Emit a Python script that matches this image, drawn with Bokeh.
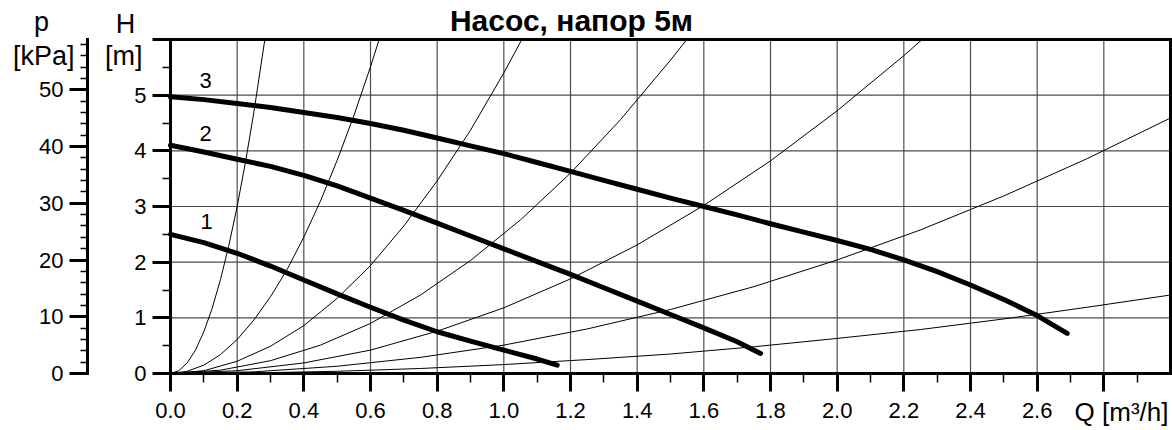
from bokeh.plotting import figure
from bokeh.models import Range1d, LinearAxis, FixedTicker, Label, NumeralTickFormatter
from bokeh.embed import file_html
from bokeh.resources import INLINE

FONT = "Liberation Sans"

# ---------------- data ----------------
TITLE = "Насос, напор 5м"

# pump curves (speed steps 1, 2, 3): flow Q [m3/h] vs head H [m]
q_pump1 = [0.0, 0.1, 0.2, 0.3, 0.4, 0.5, 0.6, 0.7, 0.8, 0.9, 1.0, 1.1, 1.16]
h_pump1 = [2.50, 2.35, 2.16, 1.93, 1.68, 1.43, 1.19, 0.96, 0.75, 0.58, 0.42, 0.26, 0.15]

q_pump2 = [0.0, 0.1, 0.2, 0.3, 0.4, 0.5, 0.6, 0.7, 0.8, 0.9, 1.0, 1.1, 1.2, 1.3, 1.4, 1.5, 1.6, 1.7, 1.77]
h_pump2 = [4.10, 3.98, 3.85, 3.72, 3.56, 3.37, 3.15, 2.93, 2.70, 2.47, 2.24, 2.01, 1.78, 1.54, 1.30, 1.06, 0.82, 0.57, 0.36]

q_pump3 = [0.0, 0.1, 0.2, 0.3, 0.4, 0.5, 0.6, 0.7, 0.8, 0.9, 1.0, 1.1, 1.2, 1.3, 1.4,
           1.5, 1.6, 1.7, 1.8, 1.9, 2.0, 2.1, 2.2, 2.3, 2.4, 2.5, 2.6, 2.69]
h_pump3 = [4.97, 4.92, 4.85, 4.78, 4.69, 4.60, 4.49, 4.37, 4.23, 4.09, 3.95, 3.79, 3.63, 3.47, 3.31,
           3.15, 3.00, 2.85, 2.69, 2.54, 2.39, 2.23, 2.04, 1.83, 1.59, 1.33, 1.04, 0.72]

# system (pipe network) characteristic curves, thin lines
q_sys1 = [0.0, 0.025, 0.05, 0.075, 0.1, 0.125, 0.15, 0.175, 0.2, 0.225, 0.25, 0.283]
h_sys1 = [0.0, 0.05, 0.19, 0.42, 0.75, 1.17, 1.69, 2.30, 3.00, 3.80, 4.69, 6.00]

q_sys2 = [0.0, 0.05, 0.1, 0.15, 0.2, 0.25, 0.3, 0.35, 0.4, 0.45, 0.5, 0.55, 0.6, 0.626]
h_sys2 = [0.0, 0.04, 0.15, 0.34, 0.61, 0.96, 1.38, 1.87, 2.45, 3.10, 3.83, 4.63, 5.51, 6.00]

q_sys3 = [0.0, 0.1, 0.2, 0.3, 0.4, 0.5, 0.6, 0.7, 0.8, 0.9, 1.0, 1.054]
h_sys3 = [0.0, 0.05, 0.22, 0.49, 0.86, 1.35, 1.94, 2.65, 3.46, 4.37, 5.40, 6.00]

q_sys4 = [0.0, 0.15, 0.3, 0.45, 0.6, 0.75, 0.9, 1.05, 1.2, 1.35, 1.5, 1.549]
h_sys4 = [0.0, 0.06, 0.23, 0.51, 0.90, 1.41, 2.03, 2.76, 3.60, 4.56, 5.63, 6.00]

q_sys5 = [0.0, 0.2, 0.4, 0.6, 0.8, 1.0, 1.2, 1.4, 1.6, 1.8, 2.0, 2.2, 2.255]
h_sys5 = [0.0, 0.05, 0.19, 0.42, 0.76, 1.18, 1.70, 2.31, 3.02, 3.82, 4.72, 5.71, 6.00]

q_sys6 = [0.0, 0.25, 0.5, 0.75, 1.0, 1.25, 1.5, 1.75, 2.0, 2.25, 2.5, 2.75, 3.0]
h_sys6 = [0.0, 0.03, 0.13, 0.29, 0.51, 0.80, 1.15, 1.56, 2.04, 2.58, 3.19, 3.86, 4.59]

q_sys7 = [0.0, 0.25, 0.5, 0.75, 1.0, 1.25, 1.5, 1.75, 2.0, 2.25, 2.5, 2.75, 3.0]
h_sys7 = [0.0, 0.01, 0.04, 0.09, 0.16, 0.25, 0.35, 0.48, 0.63, 0.79, 0.98, 1.19, 1.41]

curve_names = ["1", "2", "3"]

# axes
q_ticks = [0.0, 0.2, 0.4, 0.6, 0.8, 1.0, 1.2, 1.4, 1.6, 1.8, 2.0, 2.2, 2.4, 2.6, 2.8]
q_minor = [0.1, 0.3, 0.5, 0.7, 0.9, 1.1, 1.3, 1.5, 1.7, 1.9, 2.1, 2.3, 2.5, 2.7, 2.9]
h_ticks = [0, 1, 2, 3, 4, 5, 6]
h_minor = [0.5, 1.5, 2.5, 3.5, 4.5, 5.5]
p_ticks = [0, 10, 20, 30, 40, 50]
p_minor = [2, 4, 6, 8, 12, 14, 16, 18, 22, 24, 26, 28, 32, 34, 36, 38, 42, 44, 46, 48, 52, 54, 56, 58]
KPA_PER_M = 9.81
Q_MAX = 3.0
H_MAX = 6.0

# ---------------- layout (whole canvas is the frame; axes are pinned) ----------------
W, H = 1172, 430
PX_PER_Q = 1000 / Q_MAX
PX_PER_H = 334 / H_MAX
X0 = -170 / PX_PER_Q
X1 = X0 + W / PX_PER_Q
Y1 = 39 / PX_PER_H + H_MAX
Y0 = Y1 - H / PX_PER_H
P_AXIS_X = -83 / PX_PER_Q

p = figure(width=W, height=H,
           x_range=Range1d(X0, X1), y_range=Range1d(Y0, Y1),
           x_axis_location=None, y_axis_location=None,
           output_backend="svg", toolbar_location=None, min_border=0)
p.extra_y_ranges = {"kpa": Range1d(Y0 * KPA_PER_M, Y1 * KPA_PER_M)}
p.grid.visible = False
p.outline_line_color = None
p.background_fill_color = "white"
p.border_fill_color = "white"

# grid lines inside the chart box
grid_q = q_ticks[1:]
grid_h = h_ticks[1:-1]
p.segment(x0=grid_q, y0=[0] * len(grid_q), x1=grid_q, y1=[H_MAX] * len(grid_q),
          line_color="#4d4d4d", line_width=1.2)
p.segment(x0=[0] * len(grid_h), y0=grid_h, x1=[Q_MAX] * len(grid_h), y1=grid_h,
          line_color="#4d4d4d", line_width=1.2)

# axes
xa = LinearAxis(fixed_location=0, bounds=(0, Q_MAX),
                ticker=FixedTicker(ticks=q_ticks, minor_ticks=q_minor),
                formatter=NumeralTickFormatter(format="0.0"))
xa.major_label_overrides = {2.8: ""}
p.add_layout(xa, "below")

ya = LinearAxis(fixed_location=0, bounds=(0, H_MAX),
                ticker=FixedTicker(ticks=h_ticks, minor_ticks=h_minor))
ya.major_label_overrides = {6: ""}
p.add_layout(ya, "left")

pa = LinearAxis(y_range_name="kpa", fixed_location=P_AXIS_X, bounds=(0, H_MAX * KPA_PER_M),
                ticker=FixedTicker(ticks=p_ticks, minor_ticks=p_minor))
p.add_layout(pa, "left")

top = LinearAxis(fixed_location=H_MAX, bounds=(0, Q_MAX), ticker=FixedTicker(ticks=[]))
p.add_layout(top, "above")
right = LinearAxis(fixed_location=Q_MAX, bounds=(0, H_MAX), ticker=FixedTicker(ticks=[]))
p.add_layout(right, "right")

for ax in (xa, ya, pa, top, right):
    ax.axis_line_width = 3
    ax.axis_line_color = "black"
    ax.axis_line_cap = "square"
    ax.major_tick_line_width = 3
    ax.major_tick_line_color = "black"
    ax.minor_tick_line_width = 1.5
    ax.minor_tick_line_color = "black"
    ax.major_tick_in = 0
    ax.minor_tick_in = 0
    ax.major_tick_out = 18
    ax.major_label_text_font = FONT
    ax.major_label_text_font_size = "22px"
    ax.major_label_text_color = "black"
xa.minor_tick_out = 9
ya.minor_tick_out = 8
pa.minor_tick_out = 7
xa.major_label_standoff = 11
ya.major_label_standoff = 6
pa.major_label_standoff = 6

# system curves
for qs, hs in [(q_sys1, h_sys1), (q_sys2, h_sys2), (q_sys3, h_sys3), (q_sys4, h_sys4),
               (q_sys5, h_sys5), (q_sys6, h_sys6), (q_sys7, h_sys7)]:
    p.line(qs, hs, line_color="black", line_width=1)

# pump curves
for qs, hs in [(q_pump1, h_pump1), (q_pump2, h_pump2), (q_pump3, h_pump3)]:
    p.line(qs, hs, line_color="black", line_width=5, line_cap="round", line_join="round")

# curve numbers
for name, (qx, hy) in zip(curve_names, [(0.108, 2.73), (0.105, 4.31), (0.105, 5.27)]):
    p.add_layout(Label(x=qx, y=hy, text=name, text_font=FONT, text_font_size="22px",
                       text_align="center", text_baseline="middle", text_color="black"))

def add_text(x, y, text, size, align="center", style="normal"):
    p.add_layout(Label(x=x, y=y, text=text, text_font=FONT, text_font_size=size,
                       text_align=align, text_baseline="alphabetic", text_color="black",
                       text_font_style=style))

add_text(-0.387, 6.31, "p", "27px")
add_text(-0.380, 5.70, "[kPa]", "27px")
add_text(-0.135, 6.28, "H", "27px")
add_text(-0.140, 5.70, "[m]", "27px")
add_text(2.994, -0.70, "Q [m³/h]", "26px", align="right")
add_text(1.203, 6.35, TITLE, "30px", style="bold")

open("out.html", "w").write(file_html(p, INLINE))
